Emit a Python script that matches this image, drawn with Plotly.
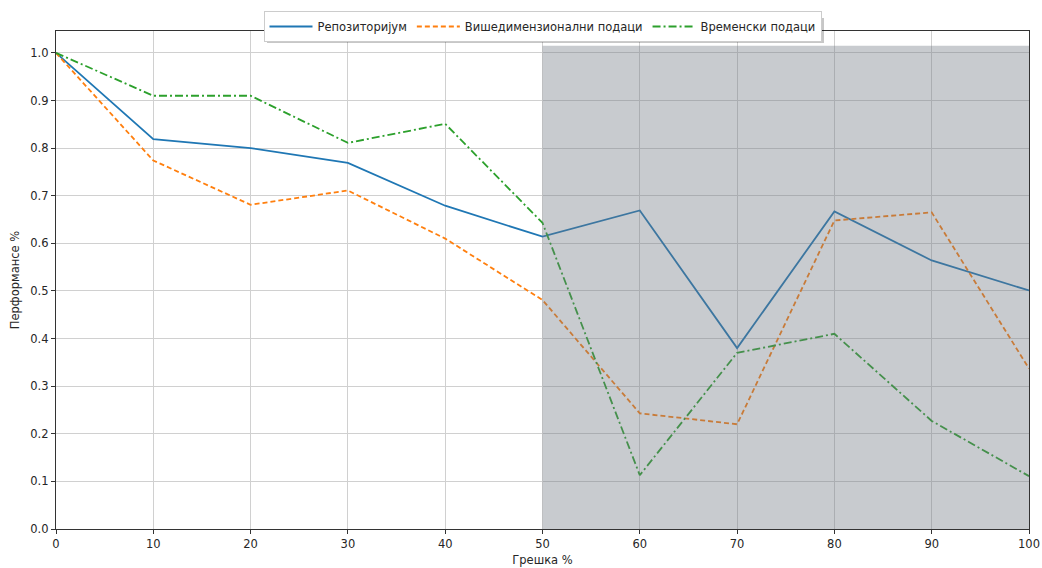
import plotly.graph_objects as go

# error percentage on the x axis
greska = [0, 10, 20, 30, 40, 50, 60, 70, 80, 90, 100]

# performance of each data source
repozitorijum = [1.0, 0.819, 0.800, 0.769, 0.679, 0.614, 0.669, 0.380, 0.667, 0.564, 0.501]
visedimenzionalni = [1.0, 0.774, 0.681, 0.711, 0.610, 0.481, 0.243, 0.220, 0.648, 0.665, 0.337]
vremenski = [1.0, 0.910, 0.910, 0.811, 0.851, 0.643, 0.113, 0.370, 0.410, 0.227, 0.111]

series_names = ["Репозиторијум", "Вишедимензионални подаци", "Временски подаци"]
series_colors = ["#1f77b4", "#ff7f0e", "#2ca02c"]
series_dash = ["solid", "5px,3px", "8px,3px,2px,3px"]

x_ticks = list(range(0, 101, 10))
y_ticks = [round(v * 0.1, 1) for v in range(11)]

# highlighted high-error band
band_x = [50, 100]
band_top = 1.015

FONT = "DejaVu Sans"
L, R, T, B = 56, 13, 30, 39
PW, PH = 1042 - L - R, 568 - T - B


def px_x(p):
    return (p - L) / PW


def px_y(p):
    return (568 - B - p) / PH


fig = go.Figure()
for name, ys, col, dash in zip(series_names, [repozitorijum, visedimenzionalni, vremenski],
                               series_colors, series_dash):
    fig.add_trace(go.Scatter(
        x=greska, y=ys, mode="lines", name=name,
        line=dict(color=col, width=1.8, dash=dash),
    ))

fig.add_shape(
    type="rect", xref="x", yref="y",
    x0=band_x[0], x1=band_x[1], y0=0, y1=band_top,
    fillcolor="rgba(110,118,130,0.38)", line=dict(width=0), layer="above",
)

# legend drop shadow
fig.add_shape(
    type="rect", xref="paper", yref="paper",
    x0=px_x(267), x1=px_x(824),
    y0=px_y(42), y1=px_y(17),
    fillcolor="rgba(0,0,0,0.22)", line=dict(width=0), layer="above",
)

axis_common = dict(
    showline=True, linecolor="#333333", linewidth=1.2, mirror=True,
    ticks="outside", ticklen=4, tickcolor="#333333",
    showgrid=True, gridcolor="#d0d0d0", gridwidth=1,
    zeroline=False, automargin=False,
    tickfont=dict(family=FONT, size=11.5, color="#262626"),
)

fig.update_xaxes(
    range=[0, 100], tickvals=x_ticks,
    title=dict(text="Грешка %", font=dict(family=FONT, size=11.5, color="#262626"), standoff=6),
    **axis_common,
)
fig.update_yaxes(
    range=[0, 1.046], tickvals=y_ticks, tickformat=".1f",
    title=dict(text="Перформансе %", font=dict(family=FONT, size=11.5, color="#262626"), standoff=8),
    **axis_common,
)

fig.update_layout(
    width=1042, height=568,
    margin=dict(l=L, r=R, t=T, b=B),
    plot_bgcolor="white", paper_bgcolor="white",
    font=dict(family=FONT, size=11.5, color="#262626"),
    showlegend=True,
    legend=dict(
        orientation="h", x=0.5, xanchor="center", y=px_y(11), yanchor="top",
        bgcolor="white", bordercolor="#cccccc", borderwidth=1,
        font=dict(family=FONT, size=11.5, color="#262626"),
        itemwidth=43, tracegroupgap=0,
    ),
)

fig.write_html("out.html")
